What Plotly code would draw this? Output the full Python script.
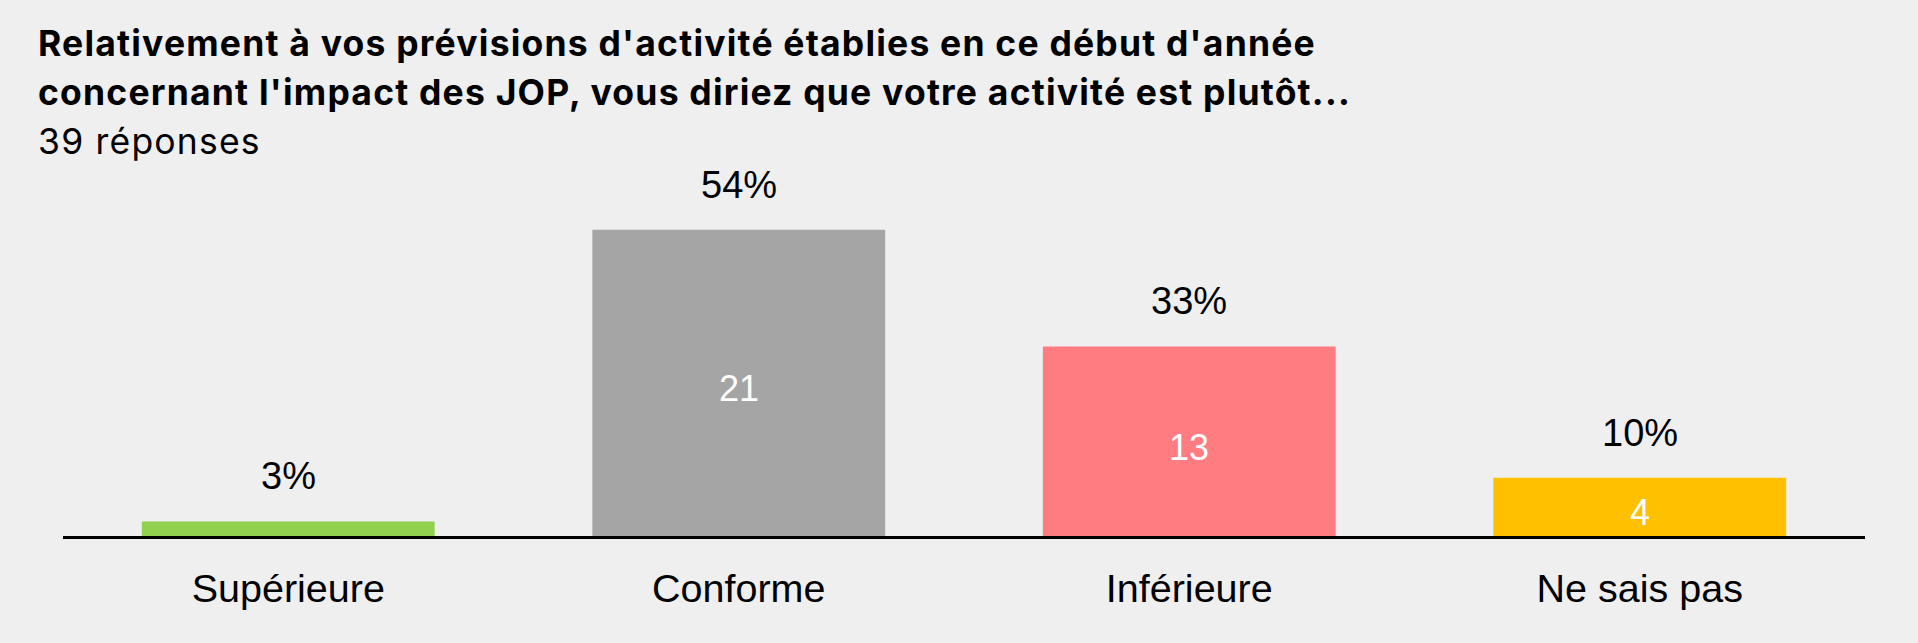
import plotly.graph_objects as go

categories = ["Supérieure", "Conforme", "Inférieure", "Ne sais pas"]
counts = [1, 21, 13, 4]
pct_labels = ["3%", "54%", "33%", "10%"]
colors = ["#92D050", "#A5A5A5", "#FF7C80", "#FFC000"]

title_lines = [
    ("<b>Relativement à vos prévisions d'activité établies en ce début d'année</b>", 43),
    ("<b>concernant l'impact des JOP, vous diriez que votre activité est plutôt...</b>", 92),
    ("39 réponses", 141.5),
]

W, H = 1918, 643
BG = "#EFEFEF"
TITLE_FONT = "Inter, Roboto, Liberation Sans, sans-serif"
NUM_FONT = "Liberation Sans, Arial, sans-serif"

M_L, M_R, M_T, M_B = 63, 53, 186, 107
PLOT_H = H - M_T - M_B
PLOT_W = W - M_L - M_R
Y_MAX = 24
PX_PER_UNIT = PLOT_H / Y_MAX

fig = go.Figure()
fig.add_trace(go.Bar(
    x=categories, y=counts,
    marker=dict(color=colors, line=dict(width=0)),
    width=0.65,
    hoverinfo="skip",
))

for cat, c, p in zip(categories, counts, pct_labels):
    fig.add_annotation(x=cat, y=c, text=p, showarrow=False,
                       xref="x", yref="y", yanchor="middle", yshift=45,
                       font=dict(family=NUM_FONT, size=38, color="black"))
    # count inside the bar (hidden when the bar is too short to hold it)
    if c * PX_PER_UNIT >= 40:
        fig.add_annotation(x=cat, y=c / 2, text=str(c), showarrow=False,
                           xref="x", yref="y", yanchor="middle", yshift=-6,
                           font=dict(family=NUM_FONT, size=36, color="white"))

for txt, py in title_lines:
    fig.add_annotation(x=(36 - M_L) / PLOT_W, xref="paper", xanchor="left",
                       y=(H - M_B - py) / PLOT_H, yref="paper", yanchor="middle",
                       text=f"<span style='letter-spacing:1.2px'>{txt}</span>",
                       showarrow=False, align="left",
                       font=dict(family=TITLE_FONT, size=35.5, color="black"))

fig.update_layout(
    width=W, height=H,
    paper_bgcolor=BG, plot_bgcolor=BG,
    margin=dict(l=M_L, r=M_R, t=M_T, b=M_B),
    showlegend=False,
    xaxis=dict(
        range=[-0.5, 3.5], showline=True, linecolor="black", linewidth=3,
        showgrid=False, zeroline=False, ticks="",
        tickfont=dict(family=NUM_FONT, size=39.5, color="black"),
        ticklabelstandoff=16,
    ),
    yaxis=dict(range=[0, Y_MAX], visible=False, showgrid=False, zeroline=False),
)

fig.write_html("out.html", config={"displayModeBar": False},
               post_script="document.body.style.margin='0';")
